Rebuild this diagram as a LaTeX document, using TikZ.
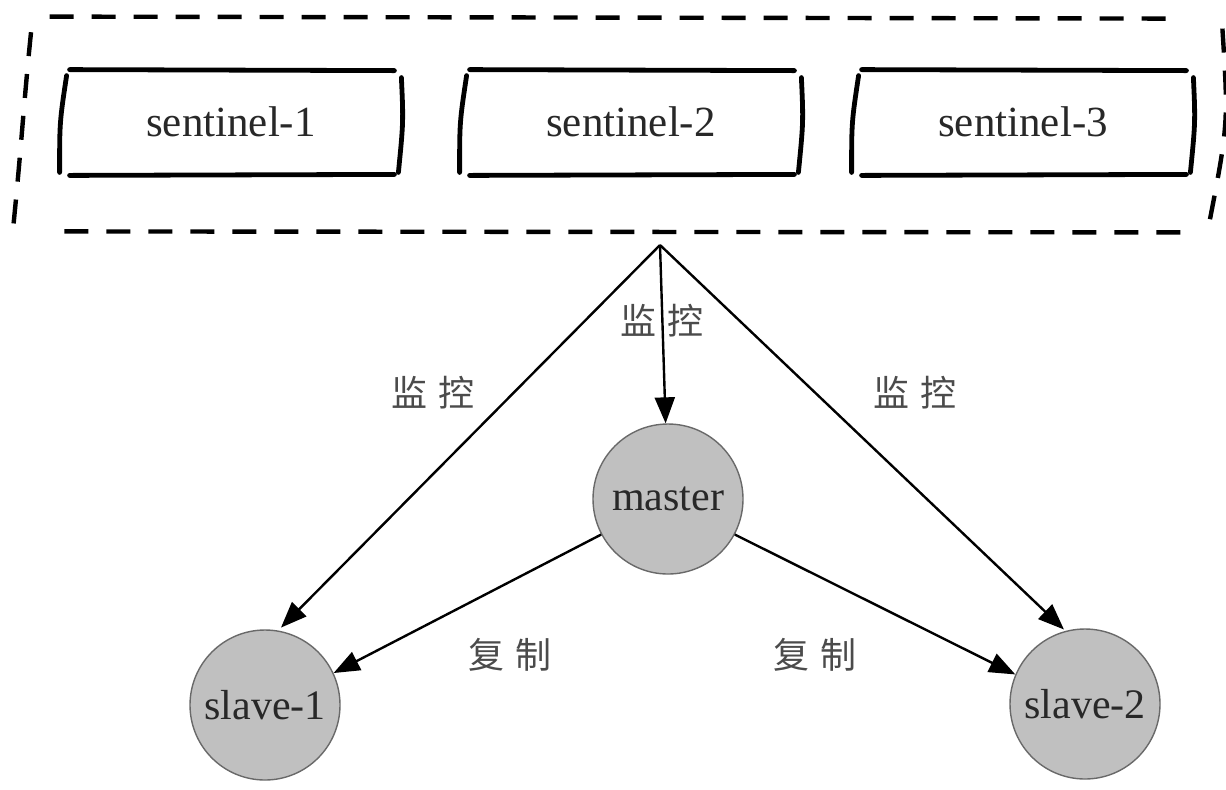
\documentclass[tikz,border=0pt]{standalone}
\usepackage{fontspec}
\setmainfont{Liberation Serif}
\newfontfamily\cjk{Noto Sans CJK SC}
\usetikzlibrary{arrows.meta}
\definecolor{nodefill}{RGB}{192,192,192}
\definecolor{nodeedge}{RGB}{105,105,105}
\definecolor{txt}{RGB}{40,40,40}
\definecolor{lbl}{RGB}{75,75,75}
\begin{document}
\begin{tikzpicture}[x=0.5pt,y=-0.5pt,
  hand/.style={line width=2.4pt,line cap=round},
  grpline/.style={line width=2.2pt,dash pattern=on 12pt off 9pt},
  sentbox/.style={minimum width=169pt,minimum height=52pt,inner sep=0pt,font=\fontsize{21.5}{25}\selectfont,text=txt},
  redis/.style={circle,fill=nodefill,draw=nodeedge,line width=0.7pt,minimum size=75pt,inner sep=0pt,font=\fontsize{21}{25}\selectfont,text=txt},
  conn/.style={line width=1.2pt,-{Triangle[length=13pt,width=10pt]}},
  lab/.style={font=\cjk\fontsize{18}{20}\selectfont,text=lbl}
]
\useasboundingbox (0,0) rectangle (1226,789);
% group of sentinels
\node[minimum width=600pt,minimum height=107pt,inner sep=0pt] (grp) at (620,124) {};
\draw[grpline] ([xshift=15pt]grp.north west) -- ([xshift=-20pt,yshift=-1pt]grp.north east);
\draw[grpline] ([xshift=1pt,yshift=-6pt]grp.north east) .. controls ([xshift=4pt]grp.east) .. ([xshift=-6pt,yshift=2pt]grp.south east);
\draw[grpline] ([xshift=-20pt,yshift=-0.5pt]grp.south east) -- ([xshift=15pt]grp.south west);
\draw[grpline] ([xshift=-3pt,yshift=4pt]grp.south west) .. controls ([xshift=1pt,yshift=-10pt]grp.west) and ([xshift=2pt,yshift=10pt]grp.west) .. ([xshift=6pt,yshift=-5pt]grp.north west);
% sentinels
\node[sentbox] (s1) at (231,122) {sentinel-1};
\node[sentbox] (s2) at (631,122) {sentinel-2};
\node[sentbox] (s3) at (1023,122) {sentinel-3};
\foreach \n in {s1,s2,s3} {
  \draw[hand] ([xshift=4pt]\n.north west) -- ([xshift=-3pt,yshift=-0.5pt]\n.north east);
  \draw[hand] ([xshift=4pt,yshift=-0.5pt]\n.south west) -- ([xshift=-3pt]\n.south east);
  \draw[hand] ([xshift=2.5pt,yshift=-3pt]\n.north west) .. controls ([xshift=-1pt]\n.west) .. ([xshift=-1pt,yshift=1pt]\n.south west);
  \draw[hand] ([xshift=0.5pt,yshift=-4pt]\n.north east) .. controls ([xshift=1.5pt]\n.east) .. ([xshift=-1pt,yshift=1pt]\n.south east);
}
% redis nodes
\node[redis] (master) at (668,499) {master};
\node[redis] (slave1) at (265,705) {slave-1};
\node[redis] (slave2) at (1085,704) {slave-2};
% connectors
\coordinate (apex) at (660,245);
\draw[conn] (apex) -- (master);
\draw[conn,shorten >=2pt] (apex) -- (slave1.80);
\draw[conn,shorten >=1pt] (apex) -- (slave2.105);
\draw[conn] (master.208) -- (slave1.25);
\draw[conn] (master.332) -- (slave2.157);
% labels
\node[lab] (l1) at (433,393) {监\hspace{0.3em}控};
\node[lab] (l2) at (662,321) {监\hspace{0.3em}控};
\node[lab] (l3) at (915,393) {监\hspace{0.3em}控};
\node[lab] (l4) at (510,655) {复\hspace{0.3em}制};
\node[lab] (l5) at (815,655) {复\hspace{0.3em}制};
\end{tikzpicture}
\end{document}
